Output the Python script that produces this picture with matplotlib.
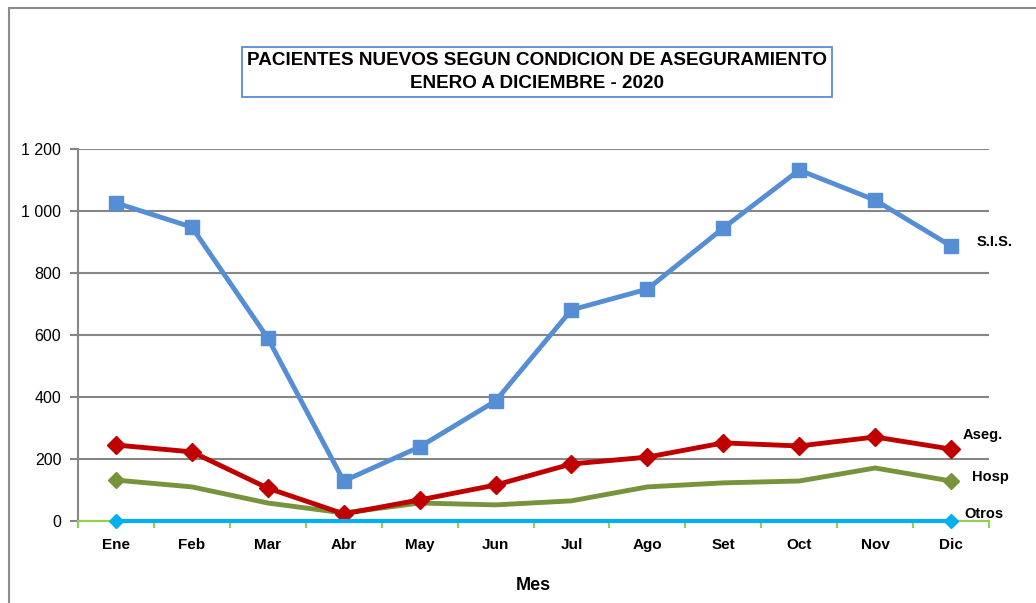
import matplotlib.pyplot as plt
from matplotlib.patches import Rectangle
from matplotlib.ticker import FuncFormatter, FixedLocator

meses = ["Ene", "Feb", "Mar", "Abr", "May", "Jun", "Jul", "Ago", "Set", "Oct", "Nov", "Dic"]
sis = [1026, 948, 590, 129, 239, 387, 681, 748, 945, 1132, 1035, 887]
aseg = [245, 223, 106, 23, 68, 116, 184, 206, 252, 242, 271, 232]
hosp = [132, 110, 58, 26, 58, 52, 65, 110, 123, 129, 171, 129]
otros = [0] * 12

plt.rcParams['font.family'] = ['Liberation Sans', 'DejaVu Sans']

fig = plt.figure(figsize=(10.36, 6.03), dpi=100)
# outer chart frame
fig.patches.append(Rectangle((9 / 1036, -0.01), 1.02, 1 - 8 / 603 + 0.01, transform=fig.transFigure,
                             fill=False, edgecolor="#8c8c8c", linewidth=1.5))

ax = fig.add_axes([78 / 1036, 1 - 521 / 603, 911 / 1036, 372 / 603])
x = list(range(len(meses)))

ax.plot(x, sis, color="#558ED5", lw=3.5, marker="s", ms=10, zorder=5)
ax.plot(x, aseg, color="#C00000", lw=3.5, marker="D", ms=9, zorder=4)
ax.plot(x, hosp, color="#77933C", lw=3.5, marker="D", ms=8, markevery=[0, 11], zorder=3)
ax.plot(x, otros, color="#00B0F0", lw=3, marker="D", ms=7, markevery=[0, 11], zorder=6, clip_on=False)

ax.set_xlim(-0.5, 11.5)
ax.set_ylim(0, 1200)
ax.set_yticks(range(0, 1201, 200))
ax.yaxis.set_major_formatter(FuncFormatter(lambda v, p: f"{int(v):,}".replace(",", " ")))
ax.grid(axis="y", color="#868686", lw=1.5)
ax.set_axisbelow(True)

ax.set_xticks(x)
ax.set_xticklabels(meses, fontweight="bold", fontsize=11)
ax.xaxis.set_minor_locator(FixedLocator([i + 0.5 for i in range(-1, 12)]))
ax.tick_params(axis="x", which="major", length=0, pad=12)
ax.tick_params(axis="x", which="minor", length=5, color="#92D050", width=1.5)
ax.tick_params(axis="y", length=6, color="#868686", width=1.5, labelsize=11.5, pad=6)

for s in ["top", "right"]:
    ax.spines[s].set_visible(False)
ax.spines["left"].set_color("#868686")
ax.spines["left"].set_linewidth(1.5)
ax.spines["bottom"].set_color("#92D050")
ax.spines["bottom"].set_linewidth(1.5)

ax.set_xlabel("Mes", fontweight="bold", fontsize=13, labelpad=18)

# series labels at the right end
lab_kw = dict(fontweight="bold", fontsize=10.5, va="center", ha="left", clip_on=False)
ax.text(11.33, 900, "S.I.S.", **lab_kw)
ax.text(11.15, 278, "Aseg.", **lab_kw)
ax.text(11.27, 142, "Hosp", **lab_kw)
ax.text(11.17, 22, "Otros", **lab_kw)

fig.text(537 / 1036, 1 - 72 / 603,
         "PACIENTES NUEVOS SEGUN CONDICION DE ASEGURAMIENTO\nENERO A DICIEMBRE - 2020",
         ha="center", va="center", fontweight="bold", fontsize=13.6, linespacing=1.45,
         bbox=dict(boxstyle="square,pad=0.25", facecolor="white", edgecolor="#558ED5", lw=1.3))

fig.savefig("out.png", dpi=100)
